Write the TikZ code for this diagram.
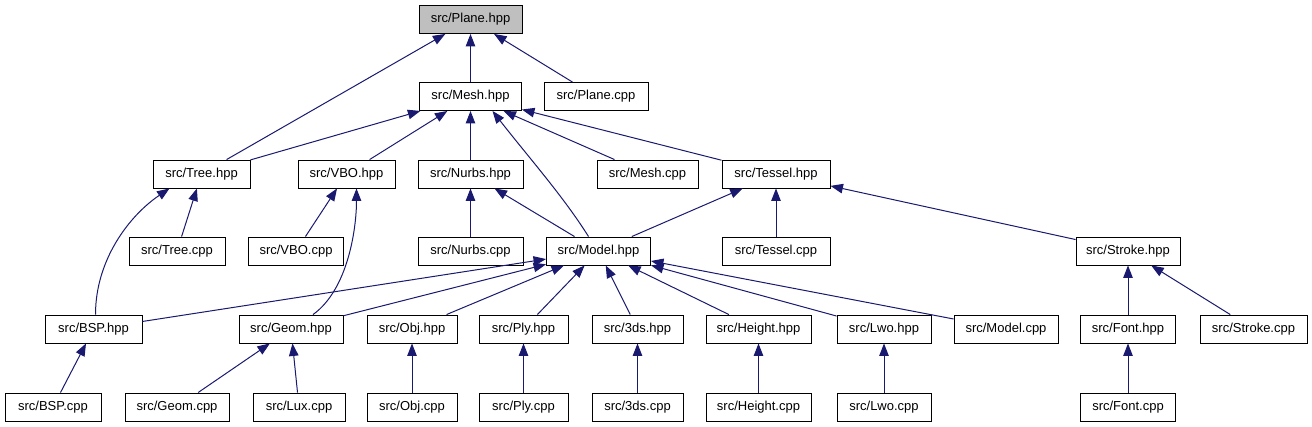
\documentclass[tikz,border=0pt]{standalone}
\usepackage{fontspec}
\setmainfont{Liberation Sans}
\usetikzlibrary{arrows.meta}
\definecolor{edgeblue}{HTML}{191970}
\definecolor{rootgray}{HTML}{BFBFBF}
\begin{document}
\begin{tikzpicture}[x=1pt,y=-1pt,
 file/.style={draw=black,line width=0.9pt,fill=white,minimum height=28pt,inner sep=0pt,font=\fontsize{13}{15}\selectfont},
 edge/.style={draw=edgeblue,line width=1pt,-{Triangle[length=12.5pt,width=9.5pt]}}]
\useasboundingbox (0,0) rectangle (1312,427);
% row 0
\node[file,fill=rootgray,minimum width=103pt] (planeh) at (470.5,19.5) {src/Plane.hpp};
% row 1
\node[file,minimum width=102pt] (meshh) at (470.5,96.5) {src/Mesh.hpp};
\node[file,minimum width=104pt] (planec) at (596,96.5) {src/Plane.cpp};
% row 2
\node[file,minimum width=97pt] (treeh) at (201.5,174) {src/Tree.hpp};
\node[file,minimum width=97pt] (vboh) at (346.5,174) {src/VBO.hpp};
\node[file,minimum width=105pt] (nurbsh) at (470.5,174) {src/Nurbs.hpp};
\node[file,minimum width=101pt] (meshc) at (647.5,174) {src/Mesh.cpp};
\node[file,minimum width=108pt] (tesselh) at (776,174) {src/Tessel.hpp};
% row 3
\node[file,minimum width=96pt] (treec) at (177,251) {src/Tree.cpp};
\node[file,minimum width=95pt] (vboc) at (296,251) {src/VBO.cpp};
\node[file,minimum width=105pt] (nurbsc) at (470.5,251) {src/Nurbs.cpp};
\node[file,minimum width=104pt] (modelh) at (598.5,251) {src/Model.hpp};
\node[file,minimum width=108pt] (tesselc) at (776,251) {src/Tessel.cpp};
\node[file,minimum width=104pt] (strokeh) at (1128,251) {src/Stroke.hpp};
% row 4
\node[file,minimum width=97pt] (bsph) at (93.5,329) {src/BSP.hpp};
\node[file,minimum width=104pt] (geomh) at (291,329) {src/Geom.hpp};
\node[file,minimum width=90pt] (objh) at (412,329) {src/Obj.hpp};
\node[file,minimum width=89pt] (plyh) at (523.5,329) {src/Ply.hpp};
\node[file,minimum width=91pt] (tdsh) at (637.5,329) {src/3ds.hpp};
\node[file,minimum width=105pt] (heighth) at (758.5,329) {src/Height.hpp};
\node[file,minimum width=94pt] (lwoh) at (884,329) {src/Lwo.hpp};
\node[file,minimum width=104pt] (modelc) at (1006,329) {src/Model.cpp};
\node[file,minimum width=95pt] (fonth) at (1128,329) {src/Font.hpp};
\node[file,minimum width=107pt] (strokec) at (1253.5,329) {src/Stroke.cpp};
% row 5
\node[file,minimum width=96pt] (bspc) at (53,407) {src/BSP.cpp};
\node[file,minimum width=104pt] (geomc) at (177,407) {src/Geom.cpp};
\node[file,minimum width=92pt] (luxc) at (299,407) {src/Lux.cpp};
\node[file,minimum width=90pt] (objc) at (412,407) {src/Obj.cpp};
\node[file,minimum width=89pt] (plyc) at (523.5,407) {src/Ply.cpp};
\node[file,minimum width=91pt] (tdsc) at (637.5,407) {src/3ds.cpp};
\node[file,minimum width=105pt] (heightc) at (758.5,407) {src/Height.cpp};
\node[file,minimum width=94pt] (lwoc) at (884,407) {src/Lwo.cpp};
\node[file,minimum width=95pt] (fontc) at (1128,407) {src/Font.cpp};
% edges
\draw[edge] (meshh) -- (planeh);
\draw[edge] (planec) -- (planeh);
\draw[edge] (treeh) -- (planeh);
\draw[edge] (treeh) -- (meshh);
\draw[edge] (vboh) -- (meshh);
\draw[edge] (nurbsh) -- (meshh);
\draw[edge] (meshc) -- (meshh);
\draw[edge] (tesselh) -- (meshh);
\draw[edge] ([xshift=-10pt]modelh.north) .. controls +(-25,-40) and +(35,45) .. ([xshift=22pt]meshh.south);
\draw[edge] (treec) -- (treeh);
\draw[edge] ([xshift=2pt]bsph.north) .. controls +(0,-55) and +(-40,27) .. ([xshift=-32pt]treeh.south);
\draw[edge] (vboc) -- (vboh);
\draw[edge] ([xshift=22pt]geomh.north) .. controls +(35,-25) and +(0,40) .. ([xshift=10pt]vboh.south);
\draw[edge] (nurbsc) -- (nurbsh);
\draw[edge] (modelh) -- (nurbsh);
\draw[edge] (modelh) -- (tesselh);
\draw[edge] (tesselc) -- (tesselh);
\draw[edge] (strokeh) -- (tesselh);
\draw[edge] (bsph) -- (modelh);
\draw[edge] (geomh) -- (modelh);
\draw[edge] (objh) -- (modelh);
\draw[edge] (plyh) -- (modelh);
\draw[edge] (tdsh) -- (modelh);
\draw[edge] (heighth) -- (modelh);
\draw[edge] (lwoh) -- (modelh);
\draw[edge] (modelc) -- (modelh);
\draw[edge] (fonth) -- (strokeh);
\draw[edge] (strokec) -- (strokeh);
\draw[edge] (bspc) -- (bsph);
\draw[edge] (geomc) -- (geomh);
\draw[edge] (luxc) -- (geomh);
\draw[edge] (objc) -- (objh);
\draw[edge] (plyc) -- (plyh);
\draw[edge] (tdsc) -- (tdsh);
\draw[edge] (heightc) -- (heighth);
\draw[edge] (lwoc) -- (lwoh);
\draw[edge] (fontc) -- (fonth);
\end{tikzpicture}
\end{document}
